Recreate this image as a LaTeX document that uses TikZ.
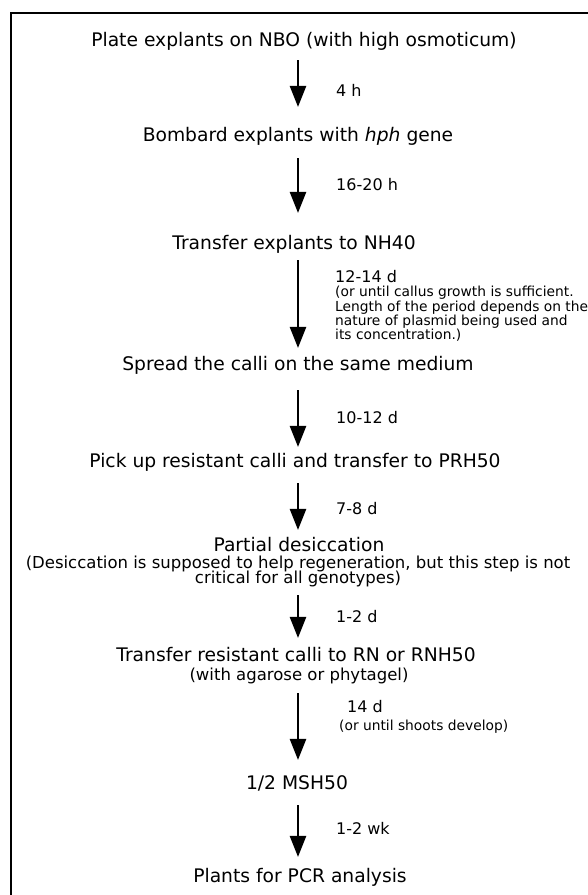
\documentclass[tikz,border=0pt]{standalone}
\usepackage{fontspec}
\setmainfont{DejaVu Sans}
\usetikzlibrary{arrows.meta}
\tikzset{
  stepbox/.style={font=\fontsize{18.7}{20}\selectfont, inner sep=0pt,
    text height=13.5pt, text depth=4pt},
  subbox/.style={font=\fontsize{16.5}{17}\selectfont, inner sep=0pt,
    text height=12pt, text depth=3.5pt},
  timelbl/.style={font=\fontsize{16}{17}\selectfont, anchor=west, inner sep=0pt},
  notelbl/.style={font=\fontsize{13.8}{12.3}\selectfont, anchor=north west,
    inner sep=0pt, align=left},
  flow/.style 2 args={line width=1.15pt, -{Triangle[width=16.5pt,length=21pt]},
    shorten <=#1pt, shorten >=#2pt},
  frame/.style={line width=2.4pt}
}
\begin{document}
\begin{tikzpicture}[x=1pt,y=-1pt]
\useasboundingbox (0,0) rectangle (588,895);
\coordinate (axis) at (298,0);

% open frame: top and left rules
\draw[frame] (11,895) -- (11,13) -- (588,13);

% protocol steps
\node[stepbox] (s1) at (304,42) {Plate explants on NBO (with high osmoticum)};
\node[stepbox] (s2) at (298,137) {Bombard explants with \textit{hph} gene};
\node[stepbox] (s3) at (294,245) {Transfer explants to NH40};
\node[stepbox] (s4) at (298,366) {Spread the calli on the same medium};
\node[stepbox] (s5) at (295,463) {Pick up resistant calli and transfer to PRH50};
\node[stepbox] (s6) at (299,547) {Partial desiccation};
\node[subbox] (s6a) at (298,564) {(Desiccation is supposed to help regeneration, but this step is not};
\node[subbox] (s6b) at (298,579) {critical for all genotypes)};
\node[stepbox] (s7) at (296,657) {Transfer resistant calli to RN or RNH50};
\node[subbox] (s7a) at (299,676) {(with agarose or phytagel)};
\node[stepbox] (s8) at (297,785) {1/2 MSH50};
\node[stepbox] (s9) at (300,878) {Plants for PCR analysis};

% durations
\node[timelbl] (t1) at (336,90) {4 h};
\node[timelbl] (t2) at (336,185) {16-20 h};
\node[timelbl] (t3) at (335,277) {12-14 d};
\node[notelbl] (n3) at (335,286) {(or until callus growth is sufficient.\\
  Length of the period depends on the\\
  nature of plasmid being used and\\
  its concentration.)};
\node[timelbl] (t4) at (336,418) {10-12 d};
\node[timelbl] (t5) at (336,509) {7-8 d};
\node[timelbl] (t6) at (336,617) {1-2 d};
\node[timelbl] (t7) at (347,707) {14 d};
\node[notelbl, anchor=west] (n7) at (339,727) {(or until shoots develop)};
\node[timelbl] (t8) at (336,828) {1-2 wk};

% flow arrows
\draw[flow={9.25}{21.25}] (s1.south -| axis) -- (s2.north -| axis);
\draw[flow={12.25}{23.25}] (s2.south -| axis) -- (s3.north -| axis);
\draw[flow={6.25}{9.25}] (s3.south -| axis) -- (s4.north -| axis);
\draw[flow={15.25}{7.25}] (s4.south -| axis) -- (s5.north -| axis);
\draw[flow={11.25}{8.25}] (s5.south -| axis) -- (s6.north -| axis);
\draw[flow={8.25}{10.25}] (s6b.south -| axis) -- (s7.north -| axis);
\draw[flow={9.25}{16.25}] (s7a.south -| axis) -- (s8.north -| axis);
\draw[flow={11.25}{12.25}] (s8.south -| axis) -- (s9.north -| axis);
\end{tikzpicture}
\end{document}
